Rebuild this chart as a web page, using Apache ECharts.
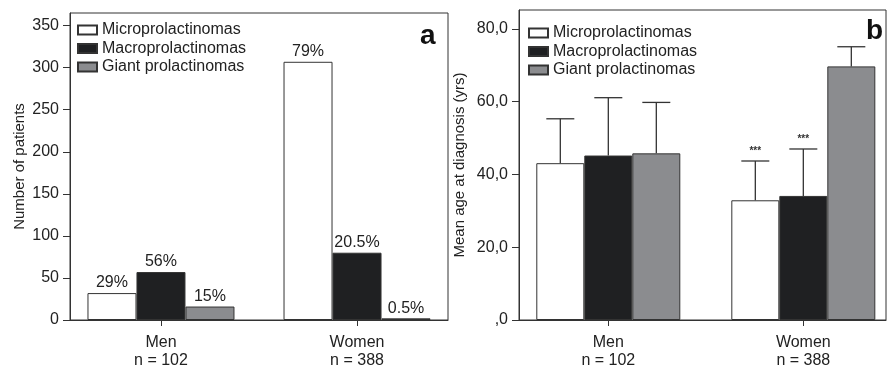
<!DOCTYPE html>
<html>
<head>
<meta charset="utf-8">
<script src="https://cdn.jsdelivr.net/npm/echarts@6/dist/echarts.min.js"></script>
<style>
html,body{margin:0;padding:0;background:#fff;}
#chart{width:887px;height:370px;}
</style>
</head>
<body>
<div id="chart"></div>
<script>
// ---- data ----
var groups = ['Men', 'Women'];
var groupN = ['n = 102', 'n = 388'];
var seriesNames = ['Microprolactinomas', 'Macroprolactinomas', 'Giant prolactinomas'];

// panel a: number of patients
var microCount = [32, 307];
var macroCount = [57, 80];
var giantCount = [16, 2];
var microPct = ['29%', '79%'];
var macroPct = ['56%', '20.5%'];
var giantPct = ['15%', '0.5%'];
var countTicks = [0, 50, 100, 150, 200, 250, 300, 350];

// panel b: mean age at diagnosis (yrs) and SD
var microAge = [43.1, 32.9];
var macroAge = [45.2, 34.1];
var giantAge = [45.8, 69.7];
var microSD = [12.2, 10.8];
var macroSD = [15.9, 12.9];
var giantSD = [14.0, 5.4];
var microSig = ['', '***'];
var macroSig = ['', '***'];
var giantSig = ['', ''];
var ageTicks = [0, 20, 40, 60, 80];
var ageTickLabels = [',0', '20,0', '40,0', '60,0', '80,0'];

// ---- styling ----
var FONT = 'Liberation Sans, Arial, Helvetica, sans-serif';
var TXT = '#222';
var LINE = '#333';
var fills = ['#ffffff', '#1f2022', '#8b8c8f'];
var BW_A = 49, BW_B = 48;

var chart = echarts.init(document.getElementById('chart'), null, {renderer: 'canvas'});

function xAxisCfg(gi, min, max) {
  return {
    type: 'value', gridIndex: gi, min: min, max: max,
    axisLine: {show: true, onZero: false, lineStyle: {color: LINE, width: 1}},
    axisTick: {show: true, length: 6, customValues: [0, 1], lineStyle: {color: LINE}},
    axisLabel: {
      customValues: [0, 1], margin: 14, color: TXT, fontFamily: FONT, fontSize: 16, lineHeight: 18,
      formatter: function (v) { var i = Math.round(v); return groups[i] + '\n' + groupN[i]; }
    },
    splitLine: {show: false}
  };
}

function yAxisCfg(gi, max, ticks, labels, name, gap) {
  return {
    type: 'value', gridIndex: gi, min: 0, max: max,
    name: name, nameLocation: 'middle', nameGap: gap,
    nameTextStyle: {color: TXT, fontFamily: FONT, fontSize: 15},
    axisLine: {show: true, onZero: false, lineStyle: {color: LINE, width: 1}},
    axisTick: {show: true, length: 7, customValues: ticks, lineStyle: {color: LINE}},
    axisLabel: {
      customValues: ticks, margin: 11, color: TXT, fontFamily: FONT, fontSize: 16,
      formatter: function (v) {
        var i = ticks.indexOf(v);
        return labels ? labels[i] : String(v);
      }
    },
    splitLine: {show: false}
  };
}

function pairData(vals) { return vals.map(function (v, i) { return [i, v]; }); }

var countVals = [microCount, macroCount, giantCount];
var countPcts = [microPct, macroPct, giantPct];
var ageVals = [microAge, macroAge, giantAge];
var ageSDs = [microSD, macroSD, giantSD];
var ageSigs = [microSig, macroSig, giantSig];

var series = [];
// panel a bars
seriesNames.forEach(function (nm, k) {
  series.push({
    type: 'bar', name: nm, xAxisIndex: 0, yAxisIndex: 0,
    barWidth: BW_A, barGap: '0%',
    itemStyle: {color: fills[k], borderColor: LINE, borderWidth: 1},
    label: {
      show: true, position: 'top', distance: 2, color: TXT, fontFamily: FONT, fontSize: 16,
      formatter: function (p) { return countPcts[k][p.dataIndex]; }
    },
    data: pairData(countVals[k])
  });
});
// panel b bars
seriesNames.forEach(function (nm, k) {
  series.push({
    type: 'bar', name: nm, xAxisIndex: 1, yAxisIndex: 1,
    barWidth: BW_B, barGap: '0%',
    itemStyle: {color: fills[k], borderColor: LINE, borderWidth: 1},
    data: pairData(ageVals[k])
  });
});
// panel b error bars
seriesNames.forEach(function (nm, k) {
  series.push({
    type: 'custom', xAxisIndex: 1, yAxisIndex: 1, z: 5,
    renderItem: function (params, api) {
      var cat = api.value(0), mean = api.value(1), sd = api.value(2);
      var base = api.coord([cat, mean]);
      var top = api.coord([cat, mean + sd]);
      var x = base[0] + (k - 1) * BW_B;
      var half = 14;
      var children = [
        {type: 'line', shape: {x1: x, y1: base[1], x2: x, y2: top[1]}, style: {stroke: LINE, lineWidth: 1.3}},
        {type: 'line', shape: {x1: x - half, y1: top[1], x2: x + half, y2: top[1]}, style: {stroke: LINE, lineWidth: 1.3}}
      ];
      var sig = ageSigs[k][params.dataIndex];
      if (sig) {
        children.push({type: 'text', style: {text: sig, x: x, y: top[1] - 5, textAlign: 'center', textVerticalAlign: 'bottom', fill: '#333', font: 'bold 10px ' + FONT}});
      }
      return {type: 'group', children: children};
    },
    data: ageVals[k].map(function (v, i) { return [i, v, ageSDs[k][i]]; })
  });
});

var legendBase = {
  orient: 'vertical', itemWidth: 19, itemHeight: 9, itemGap: 2.5, padding: 0,
  icon: 'rect', selectedMode: false,
  textStyle: {color: TXT, fontFamily: FONT, fontSize: 16, lineHeight: 16},
  data: seriesNames
};

var option = {
  animation: false,
  backgroundColor: '#fff',
  grid: [
    {left: 70, top: 13, width: 378, height: 312, show: true, borderColor: LINE, borderWidth: 1, backgroundColor: 'transparent'},
    {left: 519, top: 10, width: 367, height: 316, show: true, borderColor: LINE, borderWidth: 1, backgroundColor: 'transparent'}
  ],
  xAxis: [xAxisCfg(0, -0.464, 1.464), xAxisCfg(1, -0.458, 1.424)],
  yAxis: [
    yAxisCfg(0, 365, countTicks, null, 'Number of patients', 43),
    yAxisCfg(1, 85.2, ageTicks, ageTickLabels, 'Mean age at diagnosis (yrs)', 52)
  ],
  legend: [
    Object.assign({}, legendBase, {left: 77, top: 22}),
    Object.assign({}, legendBase, {left: 528, top: 25})
  ],
  title: [
    {text: 'a', left: 415, top: 17, textStyle: {fontFamily: FONT, fontSize: 28, fontWeight: 'bold', color: '#111'}},
    {text: 'b', left: 861, top: 12, textStyle: {fontFamily: FONT, fontSize: 28, fontWeight: 'bold', color: '#111'}}
  ],
  series: series
};
chart.setOption(option);
</script>
</body>
</html>
